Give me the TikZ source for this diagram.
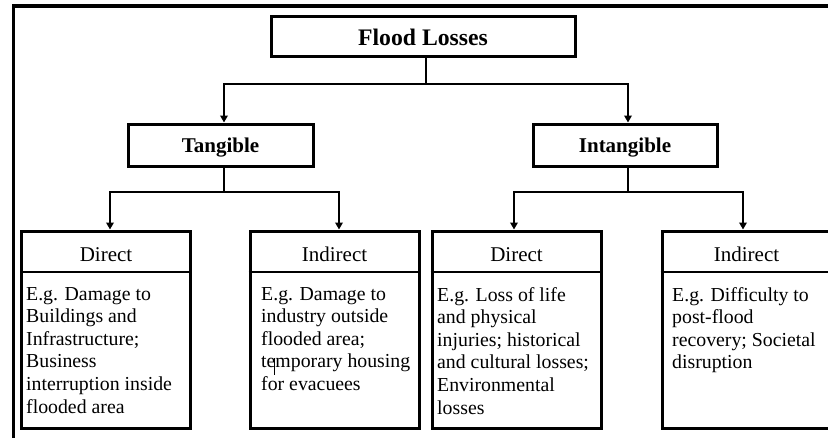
\documentclass[tikz,border=0pt]{standalone}
\usepackage{fontspec}
\setmainfont{Liberation Serif}
\usetikzlibrary{arrows.meta}

\tikzset{
  frame/.style={line width=3.6pt, line cap=rect},
  headbox/.style={draw, line width=3pt, rectangle, inner sep=0pt,
    font=\fontsize{21}{24}\selectfont\bfseries, text height=15pt, text depth=0pt},
  leafbox/.style={draw, line width=3pt, rectangle, inner sep=0pt,
    minimum width=169pt, minimum height=197pt},
  leaftitle/.style={inner sep=0pt, anchor=base, font=\fontsize{21}{24}\selectfont},
  leafbody/.style={inner sep=0pt, anchor=north west, align=left,
    font=\fontsize{19.8}{22.6}\selectfont},
  conn/.style={line width=2.6pt},
  arrowconn/.style={line width=2.6pt, -{Triangle[length=7pt,width=7.5pt]}},
}

\begin{document}
\begin{tikzpicture}[x=1pt, y=-1pt]
\useasboundingbox (0,0) rectangle (828,437);
\clip (0,0) rectangle (828,437);
\fill[white] (0,0) rectangle (828,437);

% outer frame: left and top rules
\draw[frame] (13.5,440) -- (13.5,6) -- (832,6);

% top levels
\node[headbox, minimum width=304pt, minimum height=40pt, text height=19.4pt,
      font=\fontsize{23.7}{26}\selectfont\bfseries] (flood) at (423,36) {Flood Losses};
\node[headbox, minimum width=185pt, minimum height=42pt] (tangible) at (220.5,145) {Tangible};
\node[headbox, minimum width=184pt, minimum height=42pt] (intangible) at (625,145) {Intangible};

% leaf boxes (the last one runs past the right edge)
\node[leafbox] (d1) at (106,329.5) {};
\node[leafbox] (i1) at (334.5,329.5) {};
\node[leafbox] (d2) at (516.5,329.5) {};
\node[leafbox, minimum width=190pt] (i2) at (757,329.5) {};

% title separators
\foreach \b in {d1,i1,d2,i2}
  \draw[line width=2pt] (\b.west |- 0,272) -- (\b.east |- 0,272);

% leaf titles
\node[leaftitle] (d1t) at (106,261.5) {Direct};
\node[leaftitle] (i1t) at (334.5,261.5) {Indirect};
\node[leaftitle] (d2t) at (516.5,261.5) {Direct};
\node[leaftitle] (i2t) at (746.5,261.5) {Indirect};

% leaf texts
\node[leafbody] (d1b) at (26,287) {E.g. Damage to\\Buildings and\\Infrastructure;\\Business\\interruption inside\\flooded area};
\node[leafbody] (i1b) at (261,287) {E.g. Damage to\\industry outside\\flooded area;\\temporary housing\\for evacuees};
\node[leafbody] (d2b) at (437,287) {E.g. Loss of life\\and physical\\injuries; historical\\and cultural losses;\\Environmental\\losses};
\node[leafbody] (i2b) at (672,287) {E.g. Difficulty to\\post-flood\\recovery; Societal\\disruption};

% text cursor mark
\draw[line width=0.9pt] (274.5,358) -- (274.5,375);

% connectors from the root
\coordinate (rootfork) at (426,84);
\draw[conn] ([xshift=3pt]flood.south) -- (rootfork);
\draw[arrowconn] (rootfork) -| ([xshift=3.5pt]tangible.north);
\draw[arrowconn] (rootfork) -| ([xshift=3pt]intangible.north);

% connectors under Tangible
\coordinate (tfork) at (224,192);
\draw[conn] ([xshift=3.5pt]tangible.south) -- (tfork);
\draw[arrowconn] (tfork) -| ([xshift=4pt]d1.north);
\draw[arrowconn] (tfork) -| ([xshift=4.5pt]i1.north);

% connectors under Intangible
\coordinate (ifork) at (628,192);
\draw[conn] ([xshift=3pt]intangible.south) -- (ifork);
\draw[arrowconn] (ifork) -| ([xshift=-2.5pt]d2.north);
\draw[arrowconn] (ifork) -| ([xshift=-14pt]i2.north);
\end{tikzpicture}
\end{document}
